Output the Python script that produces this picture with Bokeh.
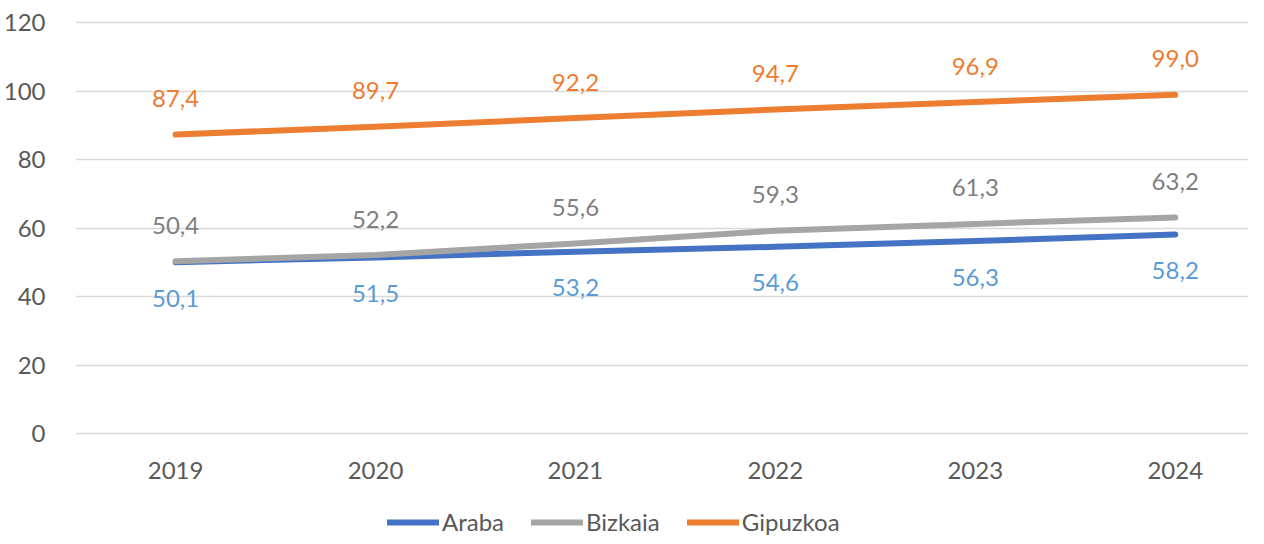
from bokeh.plotting import figure
from bokeh.models import Range1d, FixedTicker, Legend, LegendItem, ColumnDataSource
from bokeh.layouts import column
from bokeh.core.properties import value
from bokeh.embed import file_html
from bokeh.resources import INLINE

years = ["2019", "2020", "2021", "2022", "2023", "2024"]
araba = [50.1, 51.5, 53.2, 54.6, 56.3, 58.2]
bizkaia = [50.4, 52.2, 55.6, 59.3, 61.3, 63.2]
gipuzkoa = [87.4, 89.7, 92.2, 94.7, 96.9, 99.0]
y_ticks = [0, 20, 40, 60, 80, 100, 120]

FONT = "Lato"
AXIS_COL = "#595959"

x = list(range(len(years)))

p = figure(width=1248, height=488, output_backend="svg", toolbar_location=None,
           x_range=Range1d(-0.5008, 5.3665), y_range=Range1d(-0.5, 121))
p.min_border_left = 73
p.min_border_right = 0
p.min_border_top = 19
p.min_border_bottom = 53
p.outline_line_color = None
p.background_fill_color = "white"
p.border_fill_color = "white"

p.xgrid.visible = False
p.ygrid.grid_line_color = "#D9D9D9"
p.ygrid.grid_line_width = 1.5
p.yaxis.ticker = FixedTicker(ticks=y_ticks)
p.xaxis.ticker = FixedTicker(ticks=x)
p.xaxis.major_label_overrides = {i: y for i, y in enumerate(years)}

for ax in (p.xaxis, p.yaxis):
    ax.axis_line_color = None
    ax.major_tick_line_color = None
    ax.minor_tick_line_color = None
    ax.major_label_text_font = FONT
    ax.major_label_text_font_size = "24px"
    ax.major_label_text_color = AXIS_COL
p.yaxis.major_label_standoff = 24
p.xaxis.major_label_standoff = 20

series = [
    ("Araba", araba, "#4472C4", "#5B9BD5", 36),
    ("Bizkaia", bizkaia, "#A5A5A5", "#7F7F7F", -36),
    ("Gipuzkoa", gipuzkoa, "#ED7D31", "#ED7D31", -36),
]

# legend figure (its lines fall outside its ranges; only the legend shows)
lf = figure(width=1248, height=48, output_backend="svg", toolbar_location=None,
            x_range=Range1d(100, 101), y_range=Range1d(1000, 1001))
lf.axis.visible = False
lf.grid.visible = False
lf.outline_line_color = None
lf.min_border = 0

items = []
for name, vals, col, lab_col, off in series:
    src = ColumnDataSource(dict(x=x, y=vals, t=[f"{v:.1f}".replace(".", ",") for v in vals]))
    p.line("x", "y", source=src, line_color=col, line_width=6, line_cap="round", line_join="round")
    p.text("x", "y", text="t", source=src, text_color=lab_col, text_font=value(FONT),
           text_font_size="24px", text_align="center", text_baseline="middle", y_offset=off)
    r = lf.line("x", "y", source=src, line_color=col, line_width=6, line_cap="round")
    items.append(LegendItem(label=name, renderers=[r]))

legend = Legend(items=items, orientation="horizontal", location=(312, 0),
                border_line_color=None, background_fill_alpha=0,
                label_text_font=FONT, label_text_font_size="24px", label_text_color=AXIS_COL,
                glyph_width=52, glyph_height=24, label_standoff=3, spacing=27,
                padding=0, margin=0)
lf.add_layout(legend, "center")

layout = column(p, lf, spacing=0)
open("out.html", "w").write(file_html(layout, INLINE))
